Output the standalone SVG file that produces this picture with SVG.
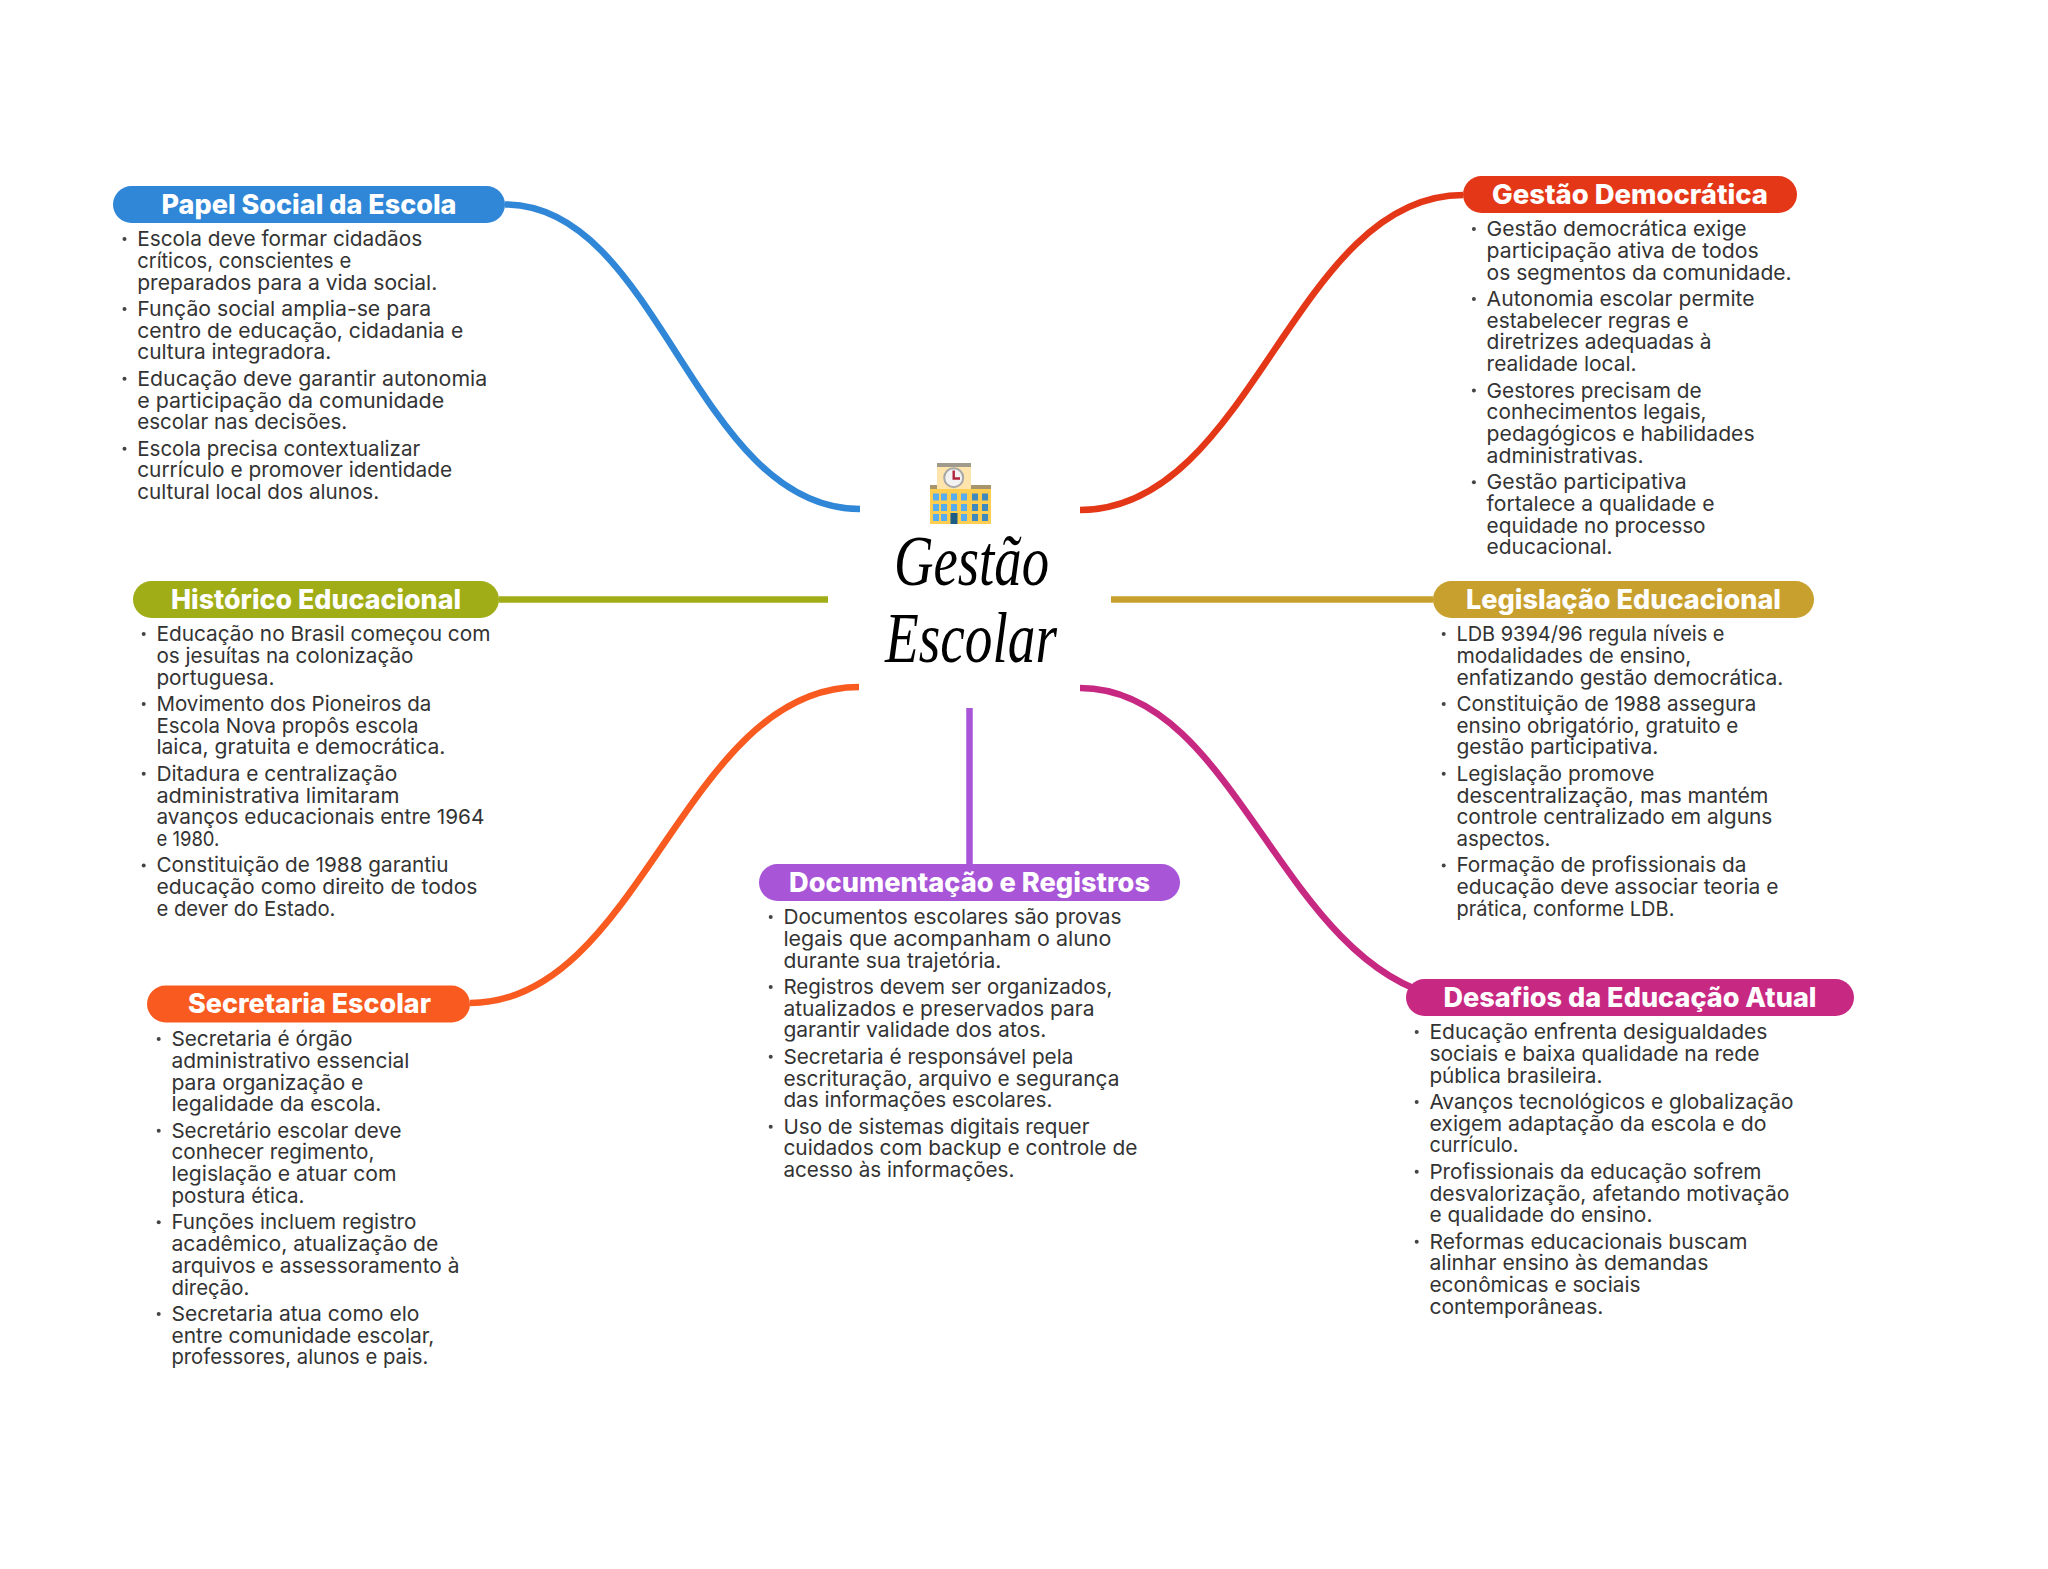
<svg xmlns="http://www.w3.org/2000/svg" width="2048" height="1569" viewBox="0 0 2048 1569">
<style>
.c{fill:none;stroke-width:6.5}
.t{font-family:Inter,"Noto Sans","Liberation Sans",sans-serif;font-size:26.5px;font-weight:800;fill:#fff;text-anchor:middle}
.l{font-family:Inter,"Noto Sans","Liberation Sans",sans-serif;font-size:20.5px;font-weight:400;fill:#333}
.d{fill:#444}
.h{font-family:"Liberation Serif",serif;font-style:italic;font-size:72px;fill:#000}
.w1{fill:#55ADEF}.w2{fill:#3F89BF}
</style>
<rect width="2048" height="1569" fill="#fff"/>
<g id="connectors">
<path class="c" stroke="#3087D7" d="M860 509C695 509 660 204.500 505 204.500"/>
<path class="c" stroke="#E43718" d="M1080 510C1252 510 1294 195 1463 195"/>
<path class="c" stroke="#A0AD16" d="M828 599.500H499"/>
<path class="c" stroke="#C8A02E" d="M1111 599.500H1433"/>
<path class="c" stroke="#F85A1F" d="M859 687C684 687 641 1003 470 1003"/>
<path class="c" stroke="#C72882" d="M1080 688C1235 688 1280 960 1440 997"/>
<path class="c" stroke="#A855D8" d="M969.500 708V864"/>
</g>
<g id="center">
<g id="building">
<rect x="937" y="463" width="34" height="5" fill="#A09A8C"/>
<rect x="937" y="467" width="34" height="22" fill="#FFE5AC"/>
<rect x="930" y="485" width="61" height="5" fill="#A8946A"/>
<rect x="937" y="485" width="34" height="5" fill="#FFE5AC"/>
<rect x="930" y="489" width="61" height="35" fill="#FFCD4F"/>
<circle cx="953.700" cy="477.700" r="9.500" fill="#F2F2F2" stroke="#A8A8A8" stroke-width="2"/>
<path d="M953.700 470.500V478.500H960" fill="none" stroke="#B0233C" stroke-width="2.400"/>
<rect class="w1" x="933" y="493.500" width="6" height="7"/><rect class="w1" x="941" y="493.500" width="6" height="7"/><rect class="w1" x="951" y="493.500" width="6" height="7"/><rect class="w1" x="961" y="493.500" width="6" height="7"/><rect class="w2" x="972" y="493.500" width="6" height="7"/><rect class="w2" x="982" y="493.500" width="6" height="7"/>
<rect class="w1" x="933" y="504" width="6" height="7"/><rect class="w1" x="941" y="504" width="6" height="7"/><rect class="w1" x="951" y="504" width="6" height="7"/><rect class="w1" x="961" y="504" width="6" height="7"/><rect class="w2" x="972" y="504" width="6" height="7"/><rect class="w2" x="982" y="504" width="6" height="7"/>
<rect class="w1" x="933" y="514" width="6" height="7"/><rect class="w1" x="941" y="514" width="6" height="7"/><rect class="w1" x="961" y="514" width="6" height="7"/><rect class="w2" x="972" y="514" width="6" height="7"/><rect class="w2" x="982" y="514" width="6" height="7"/>
<rect x="950.500" y="513" width="7" height="11" fill="#1D5C85"/>
</g>
<text class="h" x="894" y="585" textLength="155" lengthAdjust="spacingAndGlyphs">Gestão</text>
<text class="h" x="885" y="662" textLength="172" lengthAdjust="spacingAndGlyphs">Escolar</text>
</g>
<g id="papel-social">
<rect x="113" y="186" width="392" height="37" rx="18.500" fill="#3087D7"/>
<text class="t" x="309" y="213.500" textLength="295" lengthAdjust="spacingAndGlyphs">Papel Social da Escola</text>
<g transform="translate(137.200 246)">
<circle class="d" cx="-12.700" cy="-7" r="2"/><circle class="d" cx="-12.700" cy="62.900" r="2"/><circle class="d" cx="-12.700" cy="132.800" r="2"/><circle class="d" cx="-12.700" cy="202.700" r="2"/>
<text class="l" y="0" textLength="285" lengthAdjust="spacingAndGlyphs">Escola deve formar cidadãos</text>
<text class="l" y="21.750" textLength="214" lengthAdjust="spacingAndGlyphs">críticos, conscientes e</text>
<text class="l" y="43.500" textLength="300" lengthAdjust="spacingAndGlyphs">preparados para a vida social.</text>
<text class="l" y="69.900" textLength="294" lengthAdjust="spacingAndGlyphs">Função social amplia-se para</text>
<text class="l" y="91.650" textLength="326" lengthAdjust="spacingAndGlyphs">centro de educação, cidadania e</text>
<text class="l" y="113.400" textLength="194" lengthAdjust="spacingAndGlyphs">cultura integradora.</text>
<text class="l" y="139.800" textLength="350" lengthAdjust="spacingAndGlyphs">Educação deve garantir autonomia</text>
<text class="l" y="161.550" textLength="307" lengthAdjust="spacingAndGlyphs">e participação da comunidade</text>
<text class="l" y="183.300" textLength="210" lengthAdjust="spacingAndGlyphs">escolar nas decisões.</text>
<text class="l" y="209.700" textLength="283" lengthAdjust="spacingAndGlyphs">Escola precisa contextualizar</text>
<text class="l" y="231.450" textLength="315" lengthAdjust="spacingAndGlyphs">currículo e promover identidade</text>
<text class="l" y="253.200" textLength="242" lengthAdjust="spacingAndGlyphs">cultural local dos alunos.</text>
</g>
</g>
<g id="gestao-democratica">
<rect x="1463" y="176" width="334" height="37" rx="18.500" fill="#E43718"/>
<text class="t" x="1630" y="203.500" textLength="276" lengthAdjust="spacingAndGlyphs">Gestão Democrática</text>
<g transform="translate(1486.600 236)">
<circle class="d" cx="-12.700" cy="-7" r="2"/><circle class="d" cx="-12.700" cy="62.900" r="2"/><circle class="d" cx="-12.700" cy="154.550" r="2"/><circle class="d" cx="-12.700" cy="246.200" r="2"/>
<text class="l" y="0" textLength="260" lengthAdjust="spacingAndGlyphs">Gestão democrática exige</text>
<text class="l" y="21.750" textLength="272" lengthAdjust="spacingAndGlyphs">participação ativa de todos</text>
<text class="l" y="43.500" textLength="305" lengthAdjust="spacingAndGlyphs">os segmentos da comunidade.</text>
<text class="l" y="69.900" textLength="268" lengthAdjust="spacingAndGlyphs">Autonomia escolar permite</text>
<text class="l" y="91.650" textLength="202" lengthAdjust="spacingAndGlyphs">estabelecer regras e</text>
<text class="l" y="113.400" textLength="225" lengthAdjust="spacingAndGlyphs">diretrizes adequadas à</text>
<text class="l" y="135.150" textLength="150" lengthAdjust="spacingAndGlyphs">realidade local.</text>
<text class="l" y="161.550" textLength="215" lengthAdjust="spacingAndGlyphs">Gestores precisam de</text>
<text class="l" y="183.300" textLength="220" lengthAdjust="spacingAndGlyphs">conhecimentos legais,</text>
<text class="l" y="205.050" textLength="268" lengthAdjust="spacingAndGlyphs">pedagógicos e habilidades</text>
<text class="l" y="226.800" textLength="157" lengthAdjust="spacingAndGlyphs">administrativas.</text>
<text class="l" y="253.200" textLength="200" lengthAdjust="spacingAndGlyphs">Gestão participativa</text>
<text class="l" y="274.950" textLength="228" lengthAdjust="spacingAndGlyphs">fortalece a qualidade e</text>
<text class="l" y="296.700" textLength="219" lengthAdjust="spacingAndGlyphs">equidade no processo</text>
<text class="l" y="318.450" textLength="126" lengthAdjust="spacingAndGlyphs">educacional.</text>
</g>
</g>
<g id="historico-educacional">
<rect x="133" y="581" width="366" height="37" rx="18.500" fill="#A0AD16"/>
<text class="t" x="316" y="608.500" textLength="290" lengthAdjust="spacingAndGlyphs">Histórico Educacional</text>
<g transform="translate(156.400 641)">
<circle class="d" cx="-12.700" cy="-7" r="2"/><circle class="d" cx="-12.700" cy="62.900" r="2"/><circle class="d" cx="-12.700" cy="132.800" r="2"/><circle class="d" cx="-12.700" cy="224.450" r="2"/>
<text class="l" y="0" textLength="334" lengthAdjust="spacingAndGlyphs">Educação no Brasil começou com</text>
<text class="l" y="21.750" textLength="257" lengthAdjust="spacingAndGlyphs">os jesuítas na colonização</text>
<text class="l" y="43.500" textLength="118" lengthAdjust="spacingAndGlyphs">portuguesa.</text>
<text class="l" y="69.900" textLength="275" lengthAdjust="spacingAndGlyphs">Movimento dos Pioneiros da</text>
<text class="l" y="91.650" textLength="262" lengthAdjust="spacingAndGlyphs">Escola Nova propôs escola</text>
<text class="l" y="113.400" textLength="289" lengthAdjust="spacingAndGlyphs">laica, gratuita e democrática.</text>
<text class="l" y="139.800" textLength="241" lengthAdjust="spacingAndGlyphs">Ditadura e centralização</text>
<text class="l" y="161.550" textLength="243" lengthAdjust="spacingAndGlyphs">administrativa limitaram</text>
<text class="l" y="183.300" textLength="328" lengthAdjust="spacingAndGlyphs">avanços educacionais entre 1964</text>
<text class="l" y="205.050" textLength="63" lengthAdjust="spacingAndGlyphs">e 1980.</text>
<text class="l" y="231.450" textLength="292" lengthAdjust="spacingAndGlyphs">Constituição de 1988 garantiu</text>
<text class="l" y="253.200" textLength="321" lengthAdjust="spacingAndGlyphs">educação como direito de todos</text>
<text class="l" y="274.950" textLength="179" lengthAdjust="spacingAndGlyphs">e dever do Estado.</text>
</g>
</g>
<g id="legislacao-educacional">
<rect x="1433" y="581" width="381" height="37" rx="18.500" fill="#C8A02E"/>
<text class="t" x="1623.500" y="608.500" textLength="315" lengthAdjust="spacingAndGlyphs">Legislação Educacional</text>
<g transform="translate(1456.400 641)">
<circle class="d" cx="-12.700" cy="-7" r="2"/><circle class="d" cx="-12.700" cy="62.900" r="2"/><circle class="d" cx="-12.700" cy="132.800" r="2"/><circle class="d" cx="-12.700" cy="224.450" r="2"/>
<text class="l" y="0" textLength="268" lengthAdjust="spacingAndGlyphs">LDB 9394/96 regula níveis e</text>
<text class="l" y="21.750" textLength="235" lengthAdjust="spacingAndGlyphs">modalidades de ensino,</text>
<text class="l" y="43.500" textLength="327" lengthAdjust="spacingAndGlyphs">enfatizando gestão democrática.</text>
<text class="l" y="69.900" textLength="300" lengthAdjust="spacingAndGlyphs">Constituição de 1988 assegura</text>
<text class="l" y="91.650" textLength="282" lengthAdjust="spacingAndGlyphs">ensino obrigatório, gratuito e</text>
<text class="l" y="113.400" textLength="202" lengthAdjust="spacingAndGlyphs">gestão participativa.</text>
<text class="l" y="139.800" textLength="198" lengthAdjust="spacingAndGlyphs">Legislação promove</text>
<text class="l" y="161.550" textLength="312" lengthAdjust="spacingAndGlyphs">descentralização, mas mantém</text>
<text class="l" y="183.300" textLength="316" lengthAdjust="spacingAndGlyphs">controle centralizado em alguns</text>
<text class="l" y="205.050" textLength="94" lengthAdjust="spacingAndGlyphs">aspectos.</text>
<text class="l" y="231.450" textLength="290" lengthAdjust="spacingAndGlyphs">Formação de profissionais da</text>
<text class="l" y="253.200" textLength="322" lengthAdjust="spacingAndGlyphs">educação deve associar teoria e</text>
<text class="l" y="274.950" textLength="218" lengthAdjust="spacingAndGlyphs">prática, conforme LDB.</text>
</g>
</g>
<g id="secretaria-escolar">
<rect x="147" y="985.500" width="323" height="37" rx="18.500" fill="#F85A1F"/>
<text class="t" x="309.500" y="1012.500" textLength="243" lengthAdjust="spacingAndGlyphs">Secretaria Escolar</text>
<g transform="translate(171.400 1046)">
<circle class="d" cx="-12.700" cy="-7" r="2"/><circle class="d" cx="-12.700" cy="84.650" r="2"/><circle class="d" cx="-12.700" cy="176.300" r="2"/><circle class="d" cx="-12.700" cy="267.950" r="2"/>
<text class="l" y="0" textLength="181" lengthAdjust="spacingAndGlyphs">Secretaria é órgão</text>
<text class="l" y="21.750" textLength="238" lengthAdjust="spacingAndGlyphs">administrativo essencial</text>
<text class="l" y="43.500" textLength="192" lengthAdjust="spacingAndGlyphs">para organização e</text>
<text class="l" y="65.250" textLength="210" lengthAdjust="spacingAndGlyphs">legalidade da escola.</text>
<text class="l" y="91.650" textLength="230" lengthAdjust="spacingAndGlyphs">Secretário escolar deve</text>
<text class="l" y="113.400" textLength="203" lengthAdjust="spacingAndGlyphs">conhecer regimento,</text>
<text class="l" y="135.150" textLength="225" lengthAdjust="spacingAndGlyphs">legislação e atuar com</text>
<text class="l" y="156.900" textLength="133" lengthAdjust="spacingAndGlyphs">postura ética.</text>
<text class="l" y="183.300" textLength="245" lengthAdjust="spacingAndGlyphs">Funções incluem registro</text>
<text class="l" y="205.050" textLength="267" lengthAdjust="spacingAndGlyphs">acadêmico, atualização de</text>
<text class="l" y="226.800" textLength="288" lengthAdjust="spacingAndGlyphs">arquivos e assessoramento à</text>
<text class="l" y="248.550" textLength="78" lengthAdjust="spacingAndGlyphs">direção.</text>
<text class="l" y="274.950" textLength="248" lengthAdjust="spacingAndGlyphs">Secretaria atua como elo</text>
<text class="l" y="296.700" textLength="263" lengthAdjust="spacingAndGlyphs">entre comunidade escolar,</text>
<text class="l" y="318.450" textLength="257" lengthAdjust="spacingAndGlyphs">professores, alunos e pais.</text>
</g>
</g>
<g id="documentacao-registros">
<rect x="759" y="864" width="421" height="37" rx="18.500" fill="#A855D8"/>
<text class="t" x="969.500" y="891.500" textLength="361" lengthAdjust="spacingAndGlyphs">Documentação e Registros</text>
<g transform="translate(783.400 924)">
<circle class="d" cx="-12.700" cy="-7" r="2"/><circle class="d" cx="-12.700" cy="62.900" r="2"/><circle class="d" cx="-12.700" cy="132.800" r="2"/><circle class="d" cx="-12.700" cy="202.700" r="2"/>
<text class="l" y="0" textLength="338" lengthAdjust="spacingAndGlyphs">Documentos escolares são provas</text>
<text class="l" y="21.750" textLength="328" lengthAdjust="spacingAndGlyphs">legais que acompanham o aluno</text>
<text class="l" y="43.500" textLength="218" lengthAdjust="spacingAndGlyphs">durante sua trajetória.</text>
<text class="l" y="69.900" textLength="329" lengthAdjust="spacingAndGlyphs">Registros devem ser organizados,</text>
<text class="l" y="91.650" textLength="311" lengthAdjust="spacingAndGlyphs">atualizados e preservados para</text>
<text class="l" y="113.400" textLength="263" lengthAdjust="spacingAndGlyphs">garantir validade dos atos.</text>
<text class="l" y="139.800" textLength="290" lengthAdjust="spacingAndGlyphs">Secretaria é responsável pela</text>
<text class="l" y="161.550" textLength="336" lengthAdjust="spacingAndGlyphs">escrituração, arquivo e segurança</text>
<text class="l" y="183.300" textLength="269" lengthAdjust="spacingAndGlyphs">das informações escolares.</text>
<text class="l" y="209.700" textLength="306" lengthAdjust="spacingAndGlyphs">Uso de sistemas digitais requer</text>
<text class="l" y="231.450" textLength="354" lengthAdjust="spacingAndGlyphs">cuidados com backup e controle de</text>
<text class="l" y="253.200" textLength="231" lengthAdjust="spacingAndGlyphs">acesso às informações.</text>
</g>
</g>
<g id="desafios">
<rect x="1406" y="979" width="448" height="37" rx="18.500" fill="#C72882"/>
<text class="t" x="1630" y="1006.500" textLength="373" lengthAdjust="spacingAndGlyphs">Desafios da Educação Atual</text>
<g transform="translate(1429.400 1039)">
<circle class="d" cx="-12.700" cy="-7" r="2"/><circle class="d" cx="-12.700" cy="62.900" r="2"/><circle class="d" cx="-12.700" cy="132.800" r="2"/><circle class="d" cx="-12.700" cy="202.700" r="2"/>
<text class="l" y="0" textLength="338" lengthAdjust="spacingAndGlyphs">Educação enfrenta desigualdades</text>
<text class="l" y="21.750" textLength="330" lengthAdjust="spacingAndGlyphs">sociais e baixa qualidade na rede</text>
<text class="l" y="43.500" textLength="173" lengthAdjust="spacingAndGlyphs">pública brasileira.</text>
<text class="l" y="69.900" textLength="364" lengthAdjust="spacingAndGlyphs">Avanços tecnológicos e globalização</text>
<text class="l" y="91.650" textLength="337" lengthAdjust="spacingAndGlyphs">exigem adaptação da escola e do</text>
<text class="l" y="113.400" textLength="89" lengthAdjust="spacingAndGlyphs">currículo.</text>
<text class="l" y="139.800" textLength="332" lengthAdjust="spacingAndGlyphs">Profissionais da educação sofrem</text>
<text class="l" y="161.550" textLength="360" lengthAdjust="spacingAndGlyphs">desvalorização, afetando motivação</text>
<text class="l" y="183.300" textLength="223" lengthAdjust="spacingAndGlyphs">e qualidade do ensino.</text>
<text class="l" y="209.700" textLength="318" lengthAdjust="spacingAndGlyphs">Reformas educacionais buscam</text>
<text class="l" y="231.450" textLength="279" lengthAdjust="spacingAndGlyphs">alinhar ensino às demandas</text>
<text class="l" y="253.200" textLength="211" lengthAdjust="spacingAndGlyphs">econômicas e sociais</text>
<text class="l" y="274.950" textLength="174" lengthAdjust="spacingAndGlyphs">contemporâneas.</text>
</g>
</g>
</svg>
